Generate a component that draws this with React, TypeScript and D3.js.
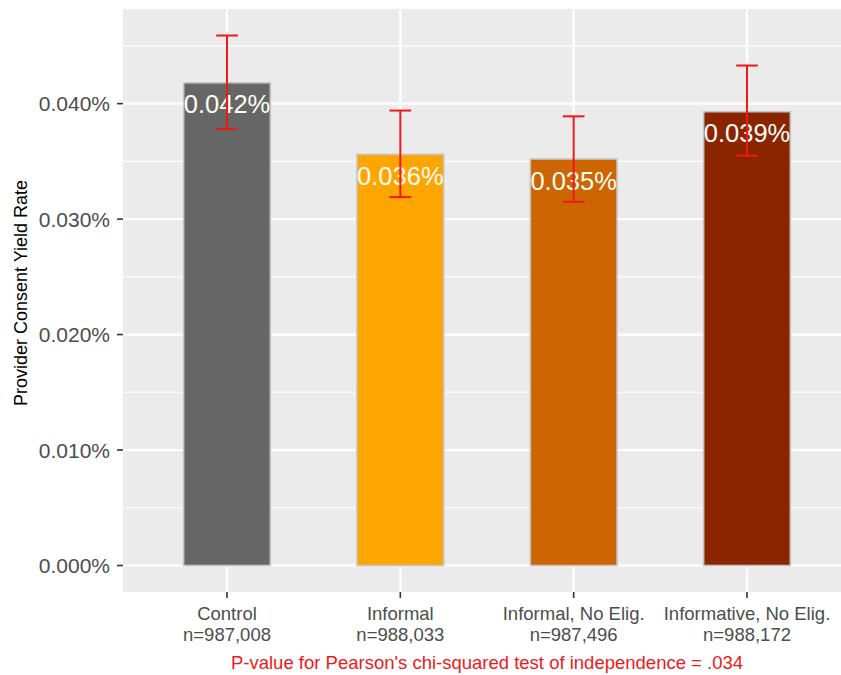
import React from "react";
import * as d3 from "d3";

// Yield rates (in percent) with 95% confidence bounds, per treatment arm
const categories = ["Control", "Informal", "Informal, No Elig.", "Informative, No Elig."];
const sampleSizes = ["n=987,008", "n=988,033", "n=987,496", "n=988,172"];
const rates = [0.0418, 0.0356, 0.0352, 0.0393];
const lowerCI = [0.0378, 0.0319, 0.0315, 0.0355];
const upperCI = [0.0459, 0.0394, 0.0389, 0.0433];
const barColors = ["#666666", "#FFA500", "#CD6600", "#8B2500"];
const majorTicks = [0, 0.01, 0.02, 0.03, 0.04];
const minorTicks = [0.005, 0.015, 0.025, 0.035, 0.045];
const yTitle = "Provider Consent Yield Rate";
const caption = "P-value for Pearson's chi-squared test of independence = .034";

const W = 841;
const H = 675;
const panel = { left: 123, right: 851, top: 9, bottom: 592 };
const FONT = "'Liberation Sans', Arial, sans-serif";

export default function App() {
  const maxVal = d3.max(upperCI) as number;
  const y = d3
    .scaleLinear()
    .domain([-0.05 * maxVal, 1.05 * maxVal])
    .range([panel.bottom, panel.top]);
  const x = d3
    .scalePoint<string>()
    .domain(categories)
    .range([panel.left, panel.right])
    .padding(0.6);
  const step = x.step();
  const barW = step * 0.5;
  const capW = step * 0.125;
  const fmtTick = (v: number) => d3.format(".3f")(v) + "%";
  const fmtLabel = (v: number) => d3.format(".3f")(v) + "%";

  return (
    <svg
      width={W}
      height={H}
      style={{ position: "absolute", left: 0, top: 0, background: "#fff" }}
      fontFamily={FONT}
    >
      <rect x={0} y={0} width={W} height={H} fill="#fff" />
      {/* panel */}
      <rect
        x={panel.left}
        y={panel.top}
        width={panel.right - panel.left}
        height={panel.bottom - panel.top}
        fill="#EBEBEB"
      />
      {minorTicks.map((t) => (
        <line
          key={"mn" + t}
          x1={panel.left}
          x2={panel.right}
          y1={y(t)}
          y2={y(t)}
          stroke="#fff"
          strokeWidth={1.1}
        />
      ))}
      {majorTicks.map((t) => (
        <line
          key={"mj" + t}
          x1={panel.left}
          x2={panel.right}
          y1={y(t)}
          y2={y(t)}
          stroke="#fff"
          strokeWidth={2.2}
        />
      ))}
      {categories.map((c) => (
        <line
          key={"vg" + c}
          x1={x(c)}
          x2={x(c)}
          y1={panel.top}
          y2={panel.bottom}
          stroke="#fff"
          strokeWidth={2.2}
        />
      ))}

      {/* bars */}
      {categories.map((c, i) => (
        <rect
          key={"bar" + c}
          x={(x(c) as number) - barW / 2}
          y={y(rates[i])}
          width={barW}
          height={y(0) - y(rates[i])}
          fill={barColors[i]}
          stroke="#C4C4C4"
          strokeWidth={1.6}
        />
      ))}

      {/* value labels */}
      {categories.map((c, i) => (
        <text
          key={"lab" + c}
          x={x(c)}
          y={y(rates[i]) + 30.5}
          textAnchor="middle"
          fontSize={25.5}
          fill="#FFFDF5"
        >
          {fmtLabel(rates[i])}
        </text>
      ))}

      {/* error bars */}
      {categories.map((c, i) => {
        const cx = x(c) as number;
        return (
          <g key={"err" + c} stroke="#F01818" strokeWidth={2}>
            <line x1={cx} x2={cx} y1={y(upperCI[i])} y2={y(lowerCI[i])} />
            <line x1={cx - capW / 2} x2={cx + capW / 2} y1={y(upperCI[i])} y2={y(upperCI[i])} />
            <line x1={cx - capW / 2} x2={cx + capW / 2} y1={y(lowerCI[i])} y2={y(lowerCI[i])} />
          </g>
        );
      })}

      {/* y axis */}
      {majorTicks.map((t) => (
        <g key={"yt" + t}>
          <line
            x1={panel.left - 6}
            x2={panel.left}
            y1={y(t)}
            y2={y(t)}
            stroke="#333"
            strokeWidth={1.6}
          />
          <text
            x={panel.left - 13}
            y={y(t) + 7.5}
            textAnchor="end"
            fontSize={21}
            fill="#4D4D4D"
          >
            {fmtTick(t)}
          </text>
        </g>
      ))}
      <text
        transform={`translate(26.5, 293) rotate(-90)`}
        textAnchor="middle"
        fontSize={18}
        fill="#000"
      >
        {yTitle}
      </text>

      {/* x axis */}
      {categories.map((c, i) => (
        <g key={"xt" + c}>
          <line
            x1={x(c)}
            x2={x(c)}
            y1={panel.bottom}
            y2={panel.bottom + 6}
            stroke="#333"
            strokeWidth={1.6}
          />
          <text x={x(c)} y={620} textAnchor="middle" fontSize={18.5} fill="#4D4D4D">
            {c}
          </text>
          <text x={x(c)} y={640.5} textAnchor="middle" fontSize={18.5} fill="#4D4D4D">
            {sampleSizes[i]}
          </text>
        </g>
      ))}

      {/* caption */}
      <text
        x={(panel.left + panel.right) / 2}
        y={668.5}
        textAnchor="middle"
        fontSize={18.5}
        fill="#F01818"
      >
        {caption}
      </text>
    </svg>
  );
}
